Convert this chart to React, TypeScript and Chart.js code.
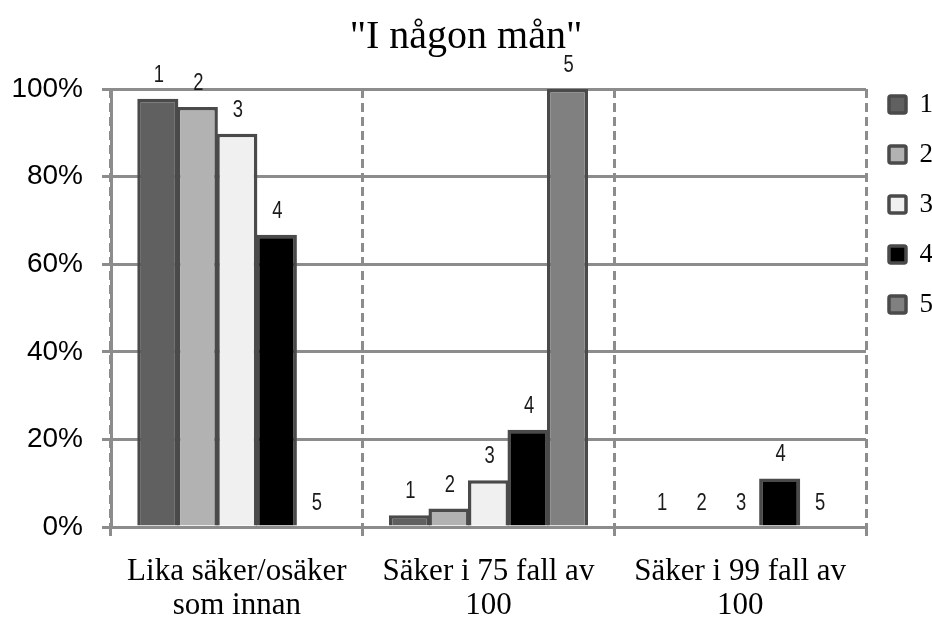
import React, { useEffect, useRef } from "react";
import { Chart, registerables } from "chart.js";

Chart.register(...registerables);

// ---- data ----
const chartTitle = '"I någon mån"';
const categories: string[][] = [
  ["Lika säker/osäker", "som innan"],
  ["Säker i 75 fall av", "100"],
  ["Säker i 99 fall av", "100"],
];
const seriesNames = ["1", "2", "3", "4", "5"];
const series1 = [0.978, 0.027, 0];
const series2 = [0.959, 0.042, 0];
const series3 = [0.898, 0.107, 0];
const series4 = [0.667, 0.222, 0.111];
const series5 = [0, 1.0, 0];
const yTickValues = [0, 0.2, 0.4, 0.6, 0.8, 1];

// ---- styles ----
const fillColors = ["#606060", "#b2b2b2", "#f0f0f0", "#000000", "#808080"];
const borderColor = "#4a4a4a";
const gridColor = "#8c8c8c";
const serif = '"Liberation Serif", "Times New Roman", serif';
const sans = '"Liberation Sans", Arial, sans-serif';

const barLabels = {
  id: "barLabels",
  afterDatasetsDraw(chart: any) {
    const ctx = chart.ctx;
    const sx = 0.8;
    ctx.save();
    ctx.font = `23px ${sans}`;
    ctx.fillStyle = "#1a1a1a";
    ctx.textAlign = "center";
    ctx.textBaseline = "alphabetic";
    chart.data.datasets.forEach((ds: any, i: number) => {
      const meta = chart.getDatasetMeta(i);
      meta.data.forEach((el: any) => {
        ctx.save();
        ctx.translate(el.x + 1, el.y - 17);
        ctx.scale(sx, 1);
        ctx.fillText(String(ds.label), 0, 0);
        ctx.restore();
      });
    });
    ctx.restore();
  },
};

export default function App() {
  const ref = useRef<HTMLCanvasElement | null>(null);

  useEffect(() => {
    if (!ref.current) return;
    const allSeries = [series1, series2, series3, series4, series5];
    const chart = new Chart(ref.current, {
      type: "bar",
      data: {
        labels: categories,
        datasets: allSeries.map((vals, i) => ({
          label: seriesNames[i],
          data: vals,
          backgroundColor: fillColors[i],
          borderColor: borderColor,
          borderWidth: 3.5,
          borderSkipped: "start",
          categoryPercentage: 0.785,
          barPercentage: 1.04,
        })),
      },
      options: {
        animation: false,
        responsive: false,
        maintainAspectRatio: false,
        layout: { padding: 0 },
        plugins: {
          tooltip: { enabled: false },
          title: {
            display: true,
            text: chartTitle,
            color: "#000",
            font: { family: serif, size: 40, weight: "normal", lineHeight: 1.2 },
            padding: { top: 13, bottom: 28 },
          },
          legend: {
            display: true,
            position: "right",
            align: "start",
            maxWidth: 66,
            title: {
              display: true,
              text: " ",
              font: { size: 12, lineHeight: 1.2 },
              padding: 26.8,
            },
            labels: {
              boxWidth: 17,
              boxHeight: 17,
              padding: 23,
              color: "#000",
              font: { family: serif, size: 27 },
              useBorderRadius: true,
              borderRadius: 2,
            },
          },
        },
        scales: {
          x: {
            grid: {
              display: true,
              offset: true,
              color: gridColor,
              lineWidth: 3,
              tickLength: 9,
              drawTicks: true,
            },
            border: { display: true, color: gridColor, width: 3, dash: [9, 5] },
            ticks: {
              color: "#000",
              padding: 19,
              font: { family: serif, size: 31, lineHeight: 1.1 },
              maxRotation: 0,
              autoSkip: false,
            },
            afterFit(scale: any) {
              scale.height = 92;
            },
          },
          y: {
            min: 0,
            max: 1,
            afterBuildTicks(scale: any) {
              scale.ticks = yTickValues.map((v) => ({ value: v }));
            },
            grid: {
              color: gridColor,
              lineWidth: 3,
              tickLength: 9,
              drawTicks: true,
            },
            border: { display: true, color: gridColor, width: 3 },
            ticks: {
              color: "#000",
              padding: 19,
              font: { family: sans, size: 28 },
              callback: (v: any) => Math.round(Number(v) * 100) + "%",
            },
            afterFit(scale: any) {
              scale.width = 111;
            },
          },
        },
      },
      plugins: [barLabels],
    } as any);
    return () => chart.destroy();
  }, []);

  return (
    <div style={{ position: "absolute", left: 0, top: 0, width: 932, height: 619, background: "#fff" }}>
      <canvas ref={ref} width={932} height={619} style={{ display: "block" }} />
    </div>
  );
}
